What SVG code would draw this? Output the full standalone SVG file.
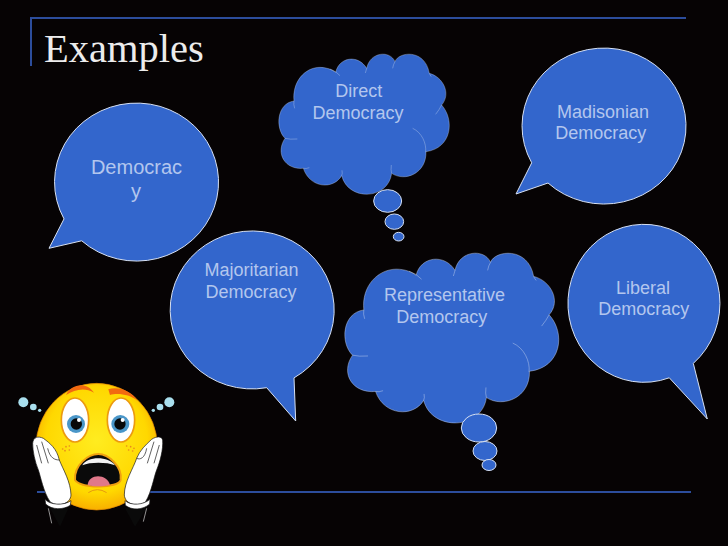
<svg xmlns="http://www.w3.org/2000/svg" width="728" height="546" viewBox="0 0 728 546">
<defs>
<radialGradient id="fg" cx="50%" cy="45%" r="58%"><stop offset="0" stop-color="#ffec20"/><stop offset=".72" stop-color="#ffd800"/><stop offset="1" stop-color="#f7a600"/></radialGradient>
<path id="cl" d="M72 168C66 110 105 67 150 67C170 67 187 74 197 82C208 35 265 28 290 70C300 20 360 15 375 50C385 20 465 10 478 85C518 95 545 145 515 180C555 225 545 310 468 320C470 385 405 412 365 385C355 465 235 470 215 392C190 435 120 430 100 370C45 375 15 325 45 280C15 250 20 175 72 168Z"/>
<g id="in"><path d="M180 72Q198 78 210 92"/><path d="M290 70Q288 78 286 84"/><path d="M375 50Q370 58 368 70"/><path d="M478 85Q480 90 484 95"/><path d="M515 180Q508 194 497 208"/><path d="M428 250C455 262 470 295 467 322"/><path d="M365 385Q362 375 364 360"/><path d="M215 392Q218 386 216 376"/><path d="M100 370Q108 372 118 368"/><path d="M45 280Q60 284 82 282"/><path d="M72 168Q70 178 74 190"/></g>
</defs>
<style>
.b{fill:#3366cc;stroke:#d6e0f2;stroke-width:1}
.n{fill:#3366cc;stroke:#d6e0f2;stroke-width:1;vector-effect:non-scaling-stroke}
.i{fill:none;stroke:#d6e0f2;stroke-width:1;vector-effect:non-scaling-stroke}
.t{font-family:"Liberation Sans",Arial,sans-serif;font-size:18px;fill:#b3c6ee;text-anchor:middle}
.r{fill:none;stroke:#2c4d9c;stroke-width:2}
.h{fill:#fff;stroke:#111;stroke-width:2}
.l{fill:none;stroke:#111;stroke-width:2}
</style>
<rect width="728" height="546" fill="#060304"/>
<path class="r" d="M31 66V18H686M37 492H691"/>
<text x="44" y="62" font-family="'Liberation Serif',serif" font-size="40.5" fill="#ececec">Examples</text>
<g id="democracy"><path class="b" d="M81.700 240.800L49 248.300L64 218.900A82 79 0 1 1 81.700 240.800Z"/><text class="t" style="font-size:20px" x="136.500" y="174">Democrac</text><text class="t" style="font-size:20px" x="136" y="198">y</text></g>
<g id="direct"><g transform="translate(270 45) scale(.3333)"><use href="#cl" class="n"/><use href="#in" class="i"/><ellipse class="n" cx="353" cy="468" rx="42" ry="34"/><ellipse class="n" cx="373" cy="530" rx="28" ry="23"/><ellipse class="n" cx="386" cy="575" rx="16" ry="13"/></g><text class="t" x="358.700" y="97">Direct</text><text class="t" x="358" y="119">Democracy</text></g>
<g id="madisonian"><path class="b" d="M548 183L516 194L531.700 162.800A82 78 0 1 1 548 183Z"/><text class="t" x="603" y="118">Madisonian</text><text class="t" x="600.700" y="139">Democracy</text></g>
<g id="majoritarian"><path class="b" d="M266.700 387.700L295.700 421L294 377.900A82 79 0 1 0 266.700 387.700Z"/><text class="t" x="251.500" y="276">Majoritarian</text><text class="t" x="251" y="298">Democracy</text></g>
<g id="representative"><g transform="translate(340 245)"><g transform="translate(5 8) scale(.4183 .4038) translate(-27 -27)"><use href="#cl" class="n"/><use href="#in" class="i"/></g><ellipse class="n" cx="139" cy="183" rx="17.700" ry="14"/><ellipse class="n" cx="145" cy="206" rx="12" ry="9.500"/><ellipse class="n" cx="149" cy="220" rx="7" ry="5.500"/></g><text class="t" x="444.500" y="301">Representative</text><text class="t" x="441.700" y="323">Democracy</text></g>
<g id="liberal"><path class="b" d="M669.300 377.800L707.300 419L693.300 363.400A76 79 0 1 0 669.300 377.800Z"/><text class="t" x="643" y="294">Liberal</text><text class="t" x="643.700" y="315">Democracy</text></g>
<g id="face" transform="translate(0 380) scale(.3333)">
<g fill="#a9dfee"><circle cx="70" cy="67" r="15"/><circle cx="100" cy="81" r="10"/><circle cx="119" cy="91" r="5"/><circle cx="508" cy="67" r="15"/><circle cx="480" cy="81" r="10"/><circle cx="460" cy="91" r="5"/></g>
<path fill="#0a0a0a" d="M145 375L180 440L205 385ZM375 385L405 440L445 375Z"/>
<path fill="none" stroke="#ddd" stroke-width="2" d="M145 385L155 430M440 385L430 425"/>
<ellipse cx="290" cy="200" rx="182" ry="190" fill="url(#fg)" stroke="#e88a00" stroke-width="2"/>
<path fill="#f26a10" d="M198 45C215 10 260 5 282 38C255 22 225 28 198 45ZM325 28C350 18 395 30 412 62C390 42 350 38 330 45Z"/>
<ellipse cx="225" cy="120" rx="41" ry="66" fill="#fff" stroke="#ec9a10" stroke-width="5"/>
<ellipse cx="363" cy="120" rx="41" ry="66" fill="#fff" stroke="#ec9a10" stroke-width="5"/>
<circle cx="228" cy="132" r="27" fill="#4a96c8"/><circle cx="361" cy="132" r="27" fill="#4a96c8"/>
<circle cx="229" cy="132" r="17" fill="#080808"/><circle cx="360" cy="132" r="17" fill="#080808"/>
<circle cx="237" cy="120" r="6" fill="#fff"/><circle cx="368" cy="120" r="6" fill="#fff"/>
<g fill="#e8891c"><circle cx="188" cy="207" r="2.500"/><circle cx="198" cy="200" r="2.500"/><circle cx="208" cy="198" r="2.500"/><circle cx="195" cy="212" r="2.500"/><circle cx="208" cy="210" r="2.500"/><circle cx="380" cy="198" r="2.500"/><circle cx="392" cy="200" r="2.500"/><circle cx="402" cy="205" r="2.500"/><circle cx="386" cy="210" r="2.500"/><circle cx="398" cy="213" r="2.500"/></g>
<path fill="#0a0a0a" stroke="#f0a010" stroke-width="6" d="M225 300C222 255 265 222 295 222C325 222 368 260 362 300C355 325 245 328 225 300Z"/>
<path fill="#f2f2f2" d="M247 256C262 228 325 228 345 256C320 246 270 246 247 256Z"/>
<path fill="#e0788a" d="M263 315C265 280 322 280 330 315C310 320 280 320 263 315Z"/>
<path fill="none" stroke="#e69a10" stroke-width="3" d="M265 338Q292 320 320 338"/>
<path class="h" d="M98 190C100 170 115 168 130 175C150 190 170 205 178 240C190 270 212 305 213 345C212 370 175 385 150 365C130 335 122 290 115 270C105 245 98 215 98 190Z"/>
<path class="l" d="M125 185L145 250M143 205C150 235 165 240 178 240M110 195L125 250"/>
<path class="h" d="M135 358C150 375 190 378 213 362L211 376C190 390 155 390 137 372Z"/>
<path class="h" d="M488 180C485 168 470 168 455 178C437 195 420 210 410 235C400 265 373 305 373 345C375 372 412 385 437 365C455 335 462 290 470 270C480 245 490 210 488 180Z"/>
<path class="l" d="M462 185L442 250M440 205C435 235 420 240 410 235M478 195L462 250"/>
<path class="h" d="M375 362C395 378 430 375 450 358L449 372C430 390 395 392 376 376Z"/>
</g>
</svg>
